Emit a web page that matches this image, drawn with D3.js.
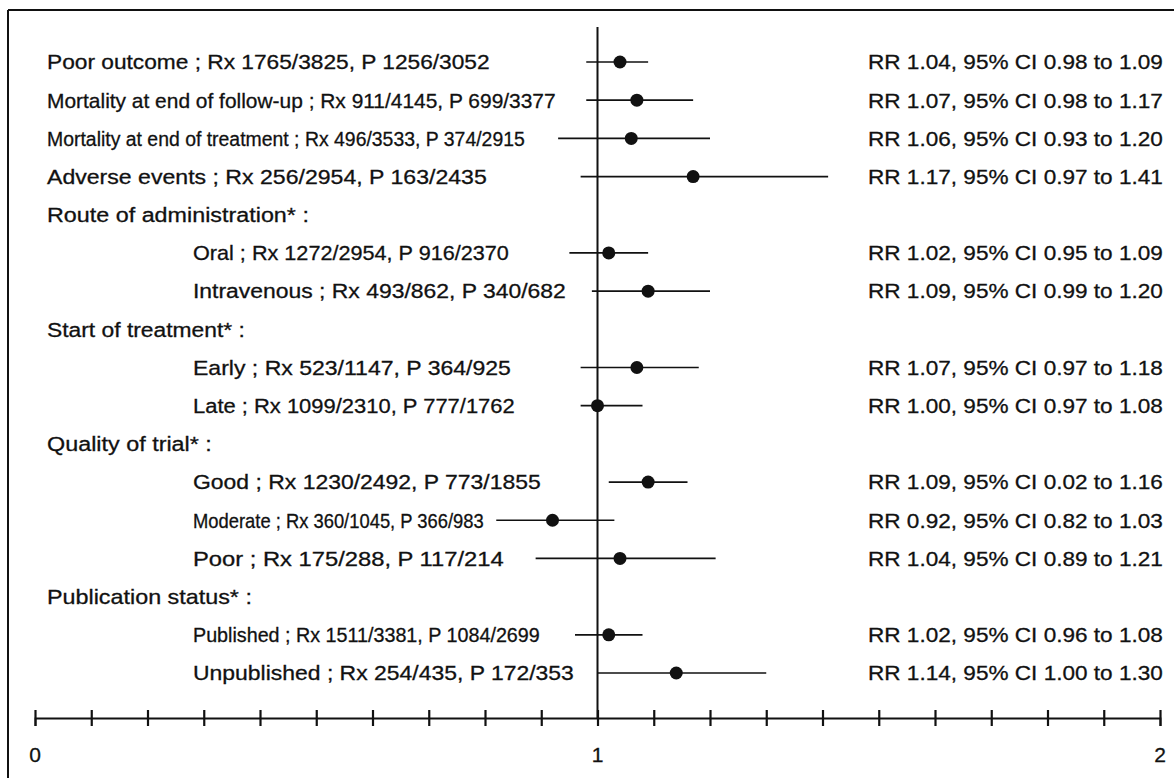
<!DOCTYPE html>
<html>
<head>
<meta charset="utf-8">
<script src="https://cdn.jsdelivr.net/npm/d3@7/dist/d3.min.js"></script>
<style>
  html, body { margin: 0; padding: 0; background: #fff; }
  text { font-family: "Liberation Sans", Arial, Helvetica, sans-serif; fill: #111; stroke: #111; stroke-width: 0.3px; }
</style>
</head>
<body>
<svg id="chart" width="1174" height="778"></svg>
<script>
// ---- data ----
const rowLabels = [
  "Poor outcome ; Rx 1765/3825, P 1256/3052",
  "Mortality at end of follow-up ; Rx 911/4145, P 699/3377",
  "Mortality at end of treatment ; Rx 496/3533, P 374/2915",
  "Adverse events ; Rx 256/2954, P 163/2435",
  "Route of administration* :",
  "Oral ; Rx 1272/2954, P 916/2370",
  "Intravenous ; Rx 493/862, P 340/682",
  "Start of treatment* :",
  "Early ; Rx 523/1147, P 364/925",
  "Late ; Rx 1099/2310, P 777/1762",
  "Quality of trial* :",
  "Good ; Rx 1230/2492, P 773/1855",
  "Moderate ; Rx 360/1045, P 366/983",
  "Poor ; Rx 175/288, P 117/214",
  "Publication status* :",
  "Published ; Rx 1511/3381, P 1084/2699",
  "Unpublished ; Rx 254/435, P 172/353"
];
// relative risk and 95% CI (null for header rows)
const rr   = [1.04,1.07,1.06,1.17,null,1.02,1.09,null,1.07,1.00,null,1.09,0.92,1.04,null,1.02,1.14];
const ciLo = [0.98,0.98,0.93,0.97,null,0.95,0.99,null,0.97,0.97,null,1.02,0.82,0.89,null,0.96,1.00];
const ciHi = [1.09,1.17,1.20,1.41,null,1.09,1.20,null,1.18,1.08,null,1.16,1.03,1.21,null,1.08,1.30];
const rrLabels = [
  "RR 1.04, 95% CI 0.98 to 1.09",
  "RR 1.07, 95% CI 0.98 to 1.17",
  "RR 1.06, 95% CI 0.93 to 1.20",
  "RR 1.17, 95% CI 0.97 to 1.41",
  null,
  "RR 1.02, 95% CI 0.95 to 1.09",
  "RR 1.09, 95% CI 0.99 to 1.20",
  null,
  "RR 1.07, 95% CI 0.97 to 1.18",
  "RR 1.00, 95% CI 0.97 to 1.08",
  null,
  "RR 1.09, 95% CI 0.02 to 1.16",
  "RR 0.92, 95% CI 0.82 to 1.03",
  "RR 1.04, 95% CI 0.89 to 1.21",
  null,
  "RR 1.02, 95% CI 0.96 to 1.08",
  "RR 1.14, 95% CI 1.00 to 1.30"
];
const tickValues = d3.range(0, 21).map(i => i / 10);
const tickLabels = ["0", "1", "2"];

// ---- layout (pasted-up label extents, in pixels) ----
const labelLeft  = [47,47,47,47,47,193,193,47,193,193,47,193,193,193,47,193,193];
const labelRight = [490,556,525,487,309,509,566,245,511,515,212,541,484,504,252,540,574];
const rrLeft = 868, rrRight = 1163;

const svg = d3.select("#chart");
const W = 1174, H = 778;
svg.append("rect").attr("width", W).attr("height", H).attr("fill", "#fff");

const x = d3.scaleLinear().domain([0, 2]).range([35, 1160]);
const y = d3.scalePoint().domain(d3.range(rowLabels.length)).range([62, 673]);
const axisY = 718;
const fontSize = 21;

// frame
svg.append("line").attr("x1", 8).attr("x2", W).attr("y1", 10).attr("y2", 10)
  .attr("stroke", "#111").attr("stroke-width", 2);
svg.append("line").attr("x1", 8).attr("x2", 8).attr("y1", 10).attr("y2", H)
  .attr("stroke", "#111").attr("stroke-width", 2);

// reference line at RR = 1
svg.append("line").attr("x1", x(1)).attr("x2", x(1)).attr("y1", 27).attr("y2", axisY)
  .attr("stroke", "#111").attr("stroke-width", 2);

// axis
const axis = d3.axisBottom(x).tickValues(tickValues).tickSize(8).tickFormat(() => "");
const gAxis = svg.append("g").attr("transform", `translate(0,${axisY})`).call(axis);
gAxis.select(".domain").attr("stroke", "#111").attr("stroke-width", 1.8);
gAxis.selectAll(".tick line").attr("y1", -8).attr("y2", 8)
  .attr("stroke", "#111").attr("stroke-width", 2.2);
svg.append("g").selectAll("text").data(tickLabels).join("text")
  .attr("x", d => x(+d)).attr("y", axisY + 37)
  .attr("dy", "0.35em").attr("text-anchor", "middle")
  .attr("font-size", fontSize).text(d => d);

// rows
const rows = d3.range(rowLabels.length);

function fit(sel, left, right) {
  sel.each(function(i) {
    const len = this.getComputedTextLength() || 1;
    const s = (right(i) - left(i)) / len;
    d3.select(this).attr("transform", `translate(${left(i)},${y(i)}) scale(${s},1)`);
  });
}

const leftText = svg.append("g").selectAll("text").data(rows).join("text")
  .attr("dy", "0.35em")
  .attr("font-size", fontSize)
  .text(i => rowLabels[i]);
fit(leftText, i => labelLeft[i], i => labelRight[i]);

const dataRows = rows.filter(i => rr[i] !== null);

svg.append("g").selectAll("line").data(dataRows).join("line")
  .attr("x1", i => x(ciLo[i])).attr("x2", i => x(ciHi[i]))
  .attr("y1", i => y(i)).attr("y2", i => y(i))
  .attr("stroke", "#111").attr("stroke-width", 1.7);

svg.append("g").selectAll("circle").data(dataRows).join("circle")
  .attr("cx", i => x(rr[i])).attr("cy", i => y(i)).attr("r", 6.5)
  .attr("fill", "#111");

const rightText = svg.append("g").selectAll("text").data(dataRows).join("text")
  .attr("dy", "0.35em")
  .attr("font-size", fontSize)
  .text(i => rrLabels[i]);
fit(rightText, () => rrLeft, () => rrRight);
</script>
</body>
</html>
